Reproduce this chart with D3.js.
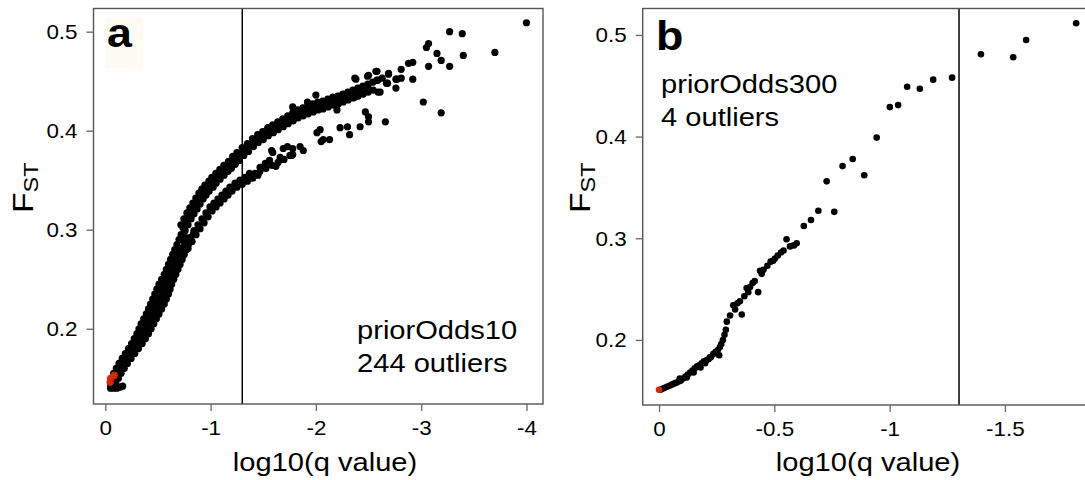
<!DOCTYPE html>
<html>
<head>
<meta charset="utf-8">
<script src="https://cdn.jsdelivr.net/npm/d3@7"></script>
<style>
  html, body { margin: 0; padding: 0; background: #fff; }
  svg { display: block; font-family: "Liberation Sans", Arial, Helvetica, sans-serif; }
</style>
</head>
<body>
<svg id="chart" width="1085" height="480"></svg>
<script>
// ---- data -------------------------------------------------------------
// Panel a (priorOdds10): [log10(q value), FST]
const pointsA = [
  // lower merged part of the curve
  [-0.050,0.145],[-0.075,0.146],[-0.100,0.145],
  [-0.065,0.150],[-0.095,0.151],[-0.125,0.150],
  [-0.080,0.155],[-0.115,0.156],[-0.150,0.155],
  [-0.105,0.160],[-0.142,0.161],[-0.180,0.160],
  [-0.130,0.165],[-0.170,0.166],[-0.210,0.165],
  [-0.160,0.170],[-0.202,0.171],[-0.245,0.170],
  [-0.190,0.175],[-0.235,0.176],[-0.280,0.175],
  [-0.220,0.180],[-0.268,0.181],[-0.315,0.180],
  [-0.250,0.185],[-0.300,0.186],[-0.350,0.185],
  [-0.275,0.190],[-0.328,0.191],[-0.380,0.190],
  [-0.300,0.195],[-0.355,0.196],[-0.410,0.195],
  [-0.320,0.200],[-0.378,0.201],[-0.435,0.200],
  [-0.340,0.205],[-0.400,0.206],[-0.460,0.205],
  [-0.365,0.210],[-0.425,0.211],[-0.485,0.210],
  [-0.390,0.215],[-0.450,0.216],[-0.510,0.215],
  [-0.410,0.220],[-0.472,0.221],[-0.535,0.220],
  [-0.430,0.225],[-0.495,0.226],[-0.560,0.225],
  [-0.450,0.230],[-0.515,0.231],[-0.580,0.230],
  [-0.470,0.235],[-0.535,0.236],[-0.600,0.235],
  [-0.490,0.240],[-0.552,0.241],[-0.615,0.240],
  [-0.510,0.245],[-0.570,0.246],[-0.630,0.245],
  [-0.535,0.250],[-0.592,0.251],[-0.650,0.250],
  [-0.560,0.255],[-0.615,0.256],[-0.670,0.255],
  [-0.580,0.260],[-0.635,0.261],[-0.690,0.260],
  [-0.600,0.265],[-0.655,0.266],[-0.710,0.265],
  [-0.620,0.270],[-0.675,0.271],[-0.730,0.270],
  [-0.640,0.275],[-0.695,0.276],[-0.750,0.275],
  [-0.660,0.280],[-0.715,0.281],[-0.770,0.280],
  [-0.680,0.285],[-0.790,0.285],
  [-0.700,0.290],[-0.810,0.290],
  [-0.720,0.295],[-0.835,0.295],
  // in-between rows of the merged part
  [-0.088,0.148],[-0.110,0.153],[-0.135,0.158],[-0.162,0.163],[-0.192,0.168],[-0.225,0.173],
  [-0.258,0.178],[-0.292,0.183],[-0.325,0.188],[-0.355,0.193],[-0.382,0.198],[-0.408,0.203],
  [-0.432,0.208],[-0.455,0.213],[-0.480,0.218],[-0.503,0.223],[-0.525,0.228],[-0.548,0.233],
  [-0.568,0.238],[-0.585,0.243],[-0.605,0.248],[-0.628,0.253],[-0.650,0.258],[-0.670,0.263],
  [-0.690,0.268],[-0.710,0.273],[-0.730,0.278],[-0.750,0.283],[-0.745,0.288],[-0.765,0.292],
  // bottom hook
  [-0.050,0.140],[-0.080,0.140],[-0.110,0.140],[-0.140,0.141],[-0.165,0.142],[-0.050,0.143],
  // upper branch, outer edge
  [-0.718,0.305],[-0.746,0.311],[-0.775,0.317],[-0.803,0.322],[-0.832,0.327],[-0.860,0.332],
  [-0.889,0.337],[-0.917,0.341],[-0.946,0.345],[-0.984,0.349],[-1.012,0.353],[-1.050,0.357],
  [-1.088,0.361],[-1.126,0.365],[-1.170,0.369],[-1.210,0.374],[-1.250,0.378],[-1.300,0.383],
  [-1.350,0.387],[-1.398,0.392],[-1.447,0.396],[-1.495,0.399],[-1.543,0.403],[-1.590,0.406],
  [-1.638,0.409],[-1.686,0.412],[-1.733,0.415],[-1.780,0.418],[-1.828,0.421],[-1.876,0.423],
  [-1.923,0.425],[-1.971,0.427],[-2.018,0.429],[-2.065,0.430],[-2.113,0.432],[-2.160,0.434],
  [-2.208,0.435],[-2.255,0.437],[-2.303,0.439],[-2.350,0.441],[-2.398,0.443],[-2.445,0.445],
  [-2.493,0.447],[-2.540,0.449],[-2.588,0.451],
  // upper branch, middle
  [-0.738,0.302],[-0.766,0.308],[-0.795,0.314],[-0.823,0.319],[-0.852,0.324],[-0.880,0.329],
  [-0.909,0.334],[-0.937,0.338],[-0.966,0.342],[-1.004,0.346],[-1.032,0.350],[-1.070,0.354],
  [-1.108,0.358],[-1.146,0.362],[-1.184,0.366],[-1.222,0.370],[-1.260,0.374],[-1.308,0.379],
  [-1.355,0.383],[-1.403,0.388],[-1.450,0.392],[-1.498,0.395],[-1.545,0.399],[-1.593,0.402],
  [-1.640,0.405],[-1.688,0.408],[-1.735,0.411],[-1.783,0.414],[-1.830,0.417],[-1.878,0.419],
  [-1.925,0.421],[-1.973,0.423],[-2.020,0.425],[-2.067,0.426],[-2.115,0.428],[-2.162,0.430],
  [-2.210,0.431],[-2.257,0.433],[-2.305,0.435],[-2.352,0.437],[-2.400,0.439],[-2.447,0.441],
  [-2.495,0.443],
  // upper branch, inner edge
  [-0.758,0.299],[-0.786,0.305],[-0.815,0.311],[-0.843,0.316],[-0.872,0.321],[-0.900,0.326],
  [-0.929,0.331],[-0.957,0.335],[-0.986,0.339],[-1.024,0.343],[-1.052,0.347],[-1.090,0.351],
  [-1.128,0.355],[-1.166,0.359],[-1.198,0.362],[-1.234,0.366],[-1.270,0.370],[-1.316,0.375],
  [-1.360,0.379],[-1.408,0.384],[-1.453,0.388],[-1.500,0.391],[-1.548,0.395],[-1.596,0.398],
  [-1.642,0.401],[-1.690,0.404],[-1.737,0.407],[-1.785,0.410],[-1.832,0.413],[-1.880,0.415],
  [-1.927,0.417],[-1.975,0.419],[-2.022,0.421],[-2.069,0.422],[-2.117,0.424],[-2.164,0.426],
  [-2.212,0.427],[-2.259,0.429],[-2.307,0.431],[-2.354,0.433],[-2.402,0.435],[-2.449,0.437],
  [-2.497,0.439],[-2.544,0.441],
  // upper branch, loose points
  [-1.920,0.429],[-2.070,0.429],[-2.200,0.421],[-2.370,0.453],[-2.370,0.434],[-2.380,0.452],
  [-2.490,0.455],[-2.500,0.456],[-2.570,0.460],[-2.580,0.460],[-2.690,0.458],[-2.770,0.452],
  [-2.580,0.451],[-2.480,0.441],[-2.590,0.439],[-2.670,0.448],[-2.000,0.436],[-1.780,0.424],
  // lower branch
  [-0.766,0.285],[-0.804,0.292],[-0.842,0.299],[-0.880,0.305],[-0.918,0.311],[-0.956,0.317],
  [-0.994,0.323],[-1.032,0.327],[-1.070,0.331],[-1.108,0.335],[-1.146,0.339],[-1.184,0.343],
  [-1.232,0.347],[-1.279,0.350],[-1.327,0.353],[-1.374,0.355],[-1.422,0.357],[-1.469,0.359],
  [-1.526,0.362],[-1.583,0.365],[-1.640,0.368],[-1.697,0.371],[-1.754,0.375],
  [-0.786,0.281],[-0.824,0.288],[-0.862,0.295],[-0.900,0.301],[-0.938,0.307],[-0.976,0.313],
  [-1.014,0.319],[-1.052,0.323],[-1.090,0.327],[-1.128,0.331],[-1.166,0.335],[-1.204,0.339],
  [-1.250,0.343],[-1.300,0.346],[-1.350,0.349],[-1.400,0.352],[-1.450,0.355],
  // lower branch, loose points
  [-1.470,0.363],[-1.370,0.357],[-1.560,0.370],[-1.660,0.373],[-1.580,0.380],[-1.690,0.382],
  [-1.520,0.367],[-1.620,0.364],[-1.680,0.371],[-1.590,0.378],[-1.780,0.382],[-1.780,0.376],
  [-1.730,0.384],[-1.880,0.380],[-1.850,0.384],[-1.770,0.375],[-2.010,0.398],[-2.040,0.401],
  [-2.050,0.389],[-2.070,0.391],[-2.130,0.391],[-2.230,0.403],[-2.300,0.404],[-2.320,0.396],
  [-2.420,0.404],[-2.470,0.419],[-2.500,0.414],[-2.500,0.409],[-2.660,0.409],
  // far tail
  [-3.020,0.429],[-3.190,0.418],
  [-4.000,0.509],[-3.270,0.500],[-3.390,0.498],[-3.700,0.479],[-3.400,0.476],[-3.050,0.484],
  [-3.070,0.488],[-3.150,0.478],[-3.190,0.471],[-3.270,0.465],[-3.070,0.465],[-2.880,0.468],
  [-2.920,0.469],[-2.810,0.462],[-2.810,0.453],[-2.920,0.452],[-2.760,0.452],[-2.760,0.443],
  [-2.690,0.457],[-2.680,0.448],[-2.630,0.453],[-2.610,0.439]
];
const highlightA = [[-0.046,0.146],[-0.050,0.150],[-0.085,0.153]];

// Panel b (priorOdds300): [log10(q value), FST]
const pointsB = [
  [-0.006,0.151],[-0.015,0.152],[-0.025,0.153],[-0.035,0.154],[-0.045,0.155],[-0.055,0.156],
  [-0.065,0.157],[-0.075,0.158],[-0.085,0.159],[-0.095,0.160],[-0.105,0.162],[-0.115,0.164],
  [-0.125,0.166],[-0.135,0.168],[-0.145,0.170],[-0.155,0.172],[-0.165,0.174],[-0.175,0.175],
  [-0.185,0.177],[-0.195,0.179],[-0.205,0.180],[-0.215,0.181],[-0.225,0.183],[-0.235,0.186],
  [-0.245,0.188],[-0.255,0.190],[-0.261,0.185],[-0.264,0.193],[-0.270,0.196],[-0.277,0.200],
  [-0.284,0.205],[-0.290,0.210],[-0.294,0.218],[-0.308,0.224],[-0.322,0.234],[-0.330,0.230],
  [-0.340,0.236],[-0.359,0.225],[-0.351,0.238],[-0.370,0.243],[-0.387,0.247],[-0.430,0.247],
  [-0.380,0.251],[-0.395,0.252],[-0.406,0.256],[-0.415,0.258],[-0.438,0.268],[-0.445,0.265],
  [-0.453,0.269],[-0.470,0.273],[-0.484,0.277],[-0.495,0.278],[-0.503,0.280],[-0.515,0.283],
  [-0.529,0.286],[-0.540,0.288],[-0.568,0.292],[-0.585,0.293],[-0.597,0.295],[-0.553,0.299],
  [-0.628,0.312],[-0.659,0.318],[-0.691,0.327],[-0.760,0.326],[-0.727,0.356],[-0.796,0.371],
  [-0.840,0.378],[-0.890,0.362],[-0.944,0.399],[-1.001,0.429],[-1.037,0.431],[-1.076,0.449],
  [-1.131,0.447],[-1.189,0.456],[-1.271,0.458],[-1.396,0.481],[-1.536,0.478],[-1.592,0.495],
  [-1.809,0.5115],
  [-0.090,0.162],[-0.120,0.163],[-0.150,0.168],[-0.180,0.173],[-0.200,0.177],[-0.221,0.183]
];
const highlightB = [[0.000,0.151]];

// axis ticks and annotations
const yTicks = [0.2, 0.3, 0.4, 0.5];
const xTicksA = [0, -1, -2, -3, -4];
const xTicksB = [0, -0.5, -1, -1.5];
const qThreshold = -1.301;            // log10(0.05)
const panelNotes = {
  a: ["priorOdds10", "244 outliers"],
  b: ["priorOdds300", "4 outliers"]
};

// ---- drawing ----------------------------------------------------------
const svg = d3.select("#chart");
svg.append("rect").attr("width", 1085).attr("height", 480).attr("fill", "#fff");

const STRETCH = 1.12;   // text is set slightly wide

function stretchedText(g, str, x, y, size, anchor, weight) {
  return g.append("text")
    .attr("transform", `translate(${x},${y}) scale(${STRETCH},1)`)
    .attr("font-size", size)
    .attr("font-weight", weight || "normal")
    .attr("text-anchor", anchor || "start")
    .attr("fill", "#000")
    .text(str);
}

function drawPanel(cfg) {
  const { x, y, pts, hi, xTicks, letter, notes, r, fstX, fstY } = cfg;
  const g = svg.append("g");
  const [x0, x1] = x.range();
  const [y0, y1] = y.range();

  // letter label with its faint backing
  if (cfg.letterBg) {
    g.append("rect").attr("x", cfg.letterBg[0]).attr("y", cfg.letterBg[1])
      .attr("width", cfg.letterBg[2]).attr("height", cfg.letterBg[3])
      .attr("fill", "#fcfcf3");
  }

  // threshold line
  g.append("line")
    .attr("x1", x(qThreshold)).attr("x2", x(qThreshold))
    .attr("y1", y1).attr("y2", y0)
    .attr("stroke", "#000").attr("stroke-width", 1.5);

  // points
  g.append("g").selectAll("circle").data(pts).join("circle")
    .attr("cx", d => x(d[0])).attr("cy", d => y(d[1]))
    .attr("r", r).attr("fill", "#000");
  g.append("g").selectAll("circle").data(hi).join("circle")
    .attr("cx", d => x(d[0])).attr("cy", d => y(d[1]))
    .attr("r", r).attr("fill", "#d42a0c");

  // frame
  g.append("rect")
    .attr("x", x0).attr("y", y1)
    .attr("width", x1 - x0).attr("height", y0 - y1)
    .attr("fill", "none").attr("stroke", "#555").attr("stroke-width", 1.4);

  // y axis
  const ya = g.append("g").attr("transform", `translate(${x0},0)`)
    .call(d3.axisLeft(y).tickValues(yTicks).tickSize(7).tickFormat(d3.format(".1f")));
  ya.select(".domain").remove();
  ya.selectAll(".tick line").attr("stroke", "#666").attr("stroke-width", 1.3);
  ya.selectAll(".tick text")
    .attr("x", null).attr("dy", "0.35em")
    .attr("transform", `translate(-16,0) scale(${STRETCH},1)`)
    .attr("font-size", 20).attr("font-family", null).attr("fill", "#000");

  // x axis
  const xa = g.append("g").attr("transform", `translate(0,${y0})`)
    .call(d3.axisBottom(x).tickValues(xTicks).tickSize(7).tickFormat(d => String(d)));
  xa.select(".domain").remove();
  xa.selectAll(".tick line").attr("stroke", "#666").attr("stroke-width", 1.3);
  xa.selectAll(".tick text")
    .attr("y", null).attr("dy", null)
    .attr("transform", `translate(0,31) scale(${STRETCH},1)`)
    .attr("font-size", 20).attr("font-family", null).attr("fill", "#000");

  // x title
  stretchedText(g, "log10(q value)", cfg.titleX, 471, 26, "middle");

  // y title: F with subscript ST
  const yt = g.append("text")
    .attr("transform", `translate(${fstX},${fstY}) rotate(-90) scale(${STRETCH},1)`)
    .attr("fill", "#000");
  yt.append("tspan").attr("font-size", 30).text("F");
  yt.append("tspan").attr("font-size", 21).attr("dy", 5).text("ST");

  // panel letter
  stretchedText(g, letter, cfg.letterPos[0], cfg.letterPos[1], 40, "start", "bold");

  // annotation
  stretchedText(g, notes[0], cfg.notePos[0], cfg.notePos[1], 26, "start");
  stretchedText(g, notes[1], cfg.notePos[0], cfg.notePos[1] + 33, 26, "start");
}

drawPanel({
  x: d3.scaleLinear().domain([0.112, -4.157]).range([93.5, 543]),
  y: d3.scaleLinear().domain([0.124, 0.5234]).range([404, 8.5]),
  pts: pointsA, hi: highlightA, xTicks: xTicksA, r: 3.6,
  letter: "a", letterPos: [107, 47], letterBg: [105, 18, 38, 50],
  notes: panelNotes.a, notePos: [357, 339],
  fstX: 33, fstY: 213, titleX: 325
});

drawPanel({
  x: d3.scaleLinear().domain([0.0707, -1.882]).range([642.7, 1093]),
  y: d3.scaleLinear().domain([0.136, 0.526]).range([405, 8.5]),
  pts: pointsB, hi: highlightB, xTicks: xTicksB, r: 3.3,
  letter: "b", letterPos: [656, 50],
  notes: panelNotes.b, notePos: [661, 93],
  fstX: 590, fstY: 213, titleX: 868
});
</script>
</body>
</html>
